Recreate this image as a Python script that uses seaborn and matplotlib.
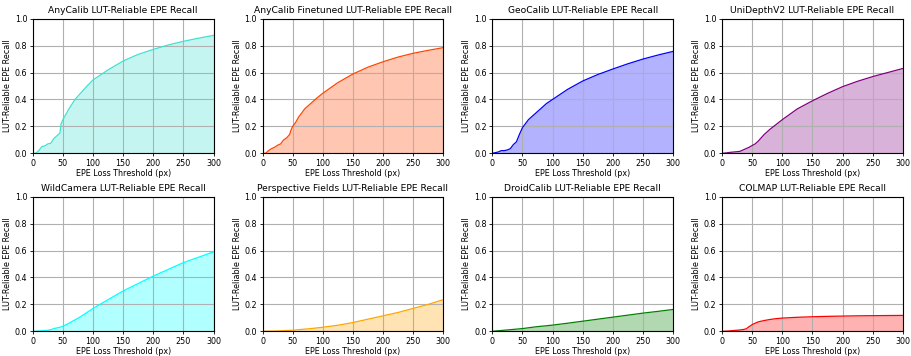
import matplotlib
matplotlib.use("Agg")
import matplotlib.pyplot as plt
import seaborn as sns
import pandas as pd

thresholds = [0, 5, 10, 15, 20, 25, 30, 35, 40, 45, 47, 50, 55, 60, 70, 80, 90,
              100, 125, 150, 175, 200, 225, 250, 275, 300]

anycalib = [0, 0.0, 0.02, 0.05, 0.055, 0.07, 0.075, 0.11, 0.13, 0.15, 0.22, 0.25, 0.29,
            0.33, 0.40, 0.45, 0.50, 0.545, 0.62, 0.686, 0.735, 0.772, 0.805, 0.832,
            0.855, 0.876]
anycalib_ft = [0, 0.0, 0.02, 0.035, 0.045, 0.06, 0.07, 0.10, 0.115, 0.14, 0.17, 0.20, 0.23,
               0.27, 0.33, 0.37, 0.41, 0.446, 0.525, 0.589, 0.64, 0.68, 0.715, 0.743,
               0.765, 0.785]
geocalib = [0, 0.005, 0.01, 0.02, 0.02, 0.025, 0.035, 0.065, 0.085, 0.14, 0.16, 0.19, 0.22,
            0.25, 0.29, 0.33, 0.37, 0.40, 0.475, 0.537, 0.585, 0.626, 0.665, 0.70,
            0.73, 0.757]
unidepth = [0, 0.002, 0.005, 0.008, 0.01, 0.012, 0.015, 0.025, 0.035, 0.045, 0.05, 0.058,
            0.07, 0.09, 0.14, 0.18, 0.215, 0.25, 0.33, 0.39, 0.445, 0.495, 0.535, 0.57,
            0.60, 0.63]
wildcamera = [0, 0.001, 0.002, 0.004, 0.006, 0.008, 0.012, 0.02, 0.025, 0.03, 0.033, 0.038,
              0.048, 0.06, 0.085, 0.11, 0.14, 0.17, 0.235, 0.30, 0.355, 0.41, 0.46, 0.51,
              0.55, 0.59]
persp_fields = [0, 0.001, 0.001, 0.002, 0.002, 0.003, 0.004, 0.005, 0.006, 0.007, 0.007,
                0.008, 0.01, 0.012, 0.016, 0.02, 0.025, 0.03, 0.045, 0.065, 0.09, 0.115,
                0.14, 0.17, 0.20, 0.235]
droidcalib = [0, 0.002, 0.004, 0.006, 0.008, 0.01, 0.012, 0.014, 0.016, 0.018, 0.019, 0.02,
              0.023, 0.026, 0.032, 0.037, 0.041, 0.046, 0.06, 0.075, 0.09, 0.105, 0.12,
              0.135, 0.148, 0.162]
colmap = [0, 0.001, 0.002, 0.004, 0.006, 0.008, 0.01, 0.013, 0.018, 0.035, 0.04, 0.05,
          0.06, 0.07, 0.08, 0.088, 0.094, 0.098, 0.104, 0.108, 0.111, 0.113, 0.115, 0.116,
          0.117, 0.118]

methods = ["AnyCalib", "AnyCalib Finetuned", "GeoCalib", "UniDepthV2",
           "WildCamera", "Perspective Fields", "DroidCalib", "COLMAP"]
curves = [anycalib, anycalib_ft, geocalib, unidepth,
          wildcamera, persp_fields, droidcalib, colmap]
colors = ["turquoise", "orangered", "blue", "purple",
          "cyan", "orange", "green", "red"]

fig, axes = plt.subplots(2, 4, figsize=(9.11, 3.56), dpi=100)
fig.subplots_adjust(left=0.036, right=0.991, top=0.9475, bottom=0.0694,
                    wspace=0.271, hspace=0.322)

for ax, name, vals, col in zip(axes.flat, methods, curves, colors):
    df = pd.DataFrame({"threshold": thresholds, "recall": vals})
    sns.lineplot(data=df, x="threshold", y="recall", ax=ax, color=col, linewidth=0.9)
    ax.fill_between(df["threshold"], df["recall"], color=col, alpha=0.3, linewidth=0)
    ax.set_xlim(0, 300)
    ax.set_ylim(0, 1.0)
    ax.set_title(f"{name} LUT-Reliable EPE Recall", fontsize=6.6, pad=4)
    ax.set_xlabel("EPE Loss Threshold (px)", fontsize=5.8, labelpad=1)
    ax.set_ylabel("LUT-Reliable EPE Recall", fontsize=5.8, labelpad=2)
    ax.tick_params(labelsize=5.8, length=2.5, width=0.6, pad=1.5)
    for s in ax.spines.values():
        s.set_linewidth(0.8)
    ax.grid(True, linewidth=0.8)

fig.savefig("out.png", dpi=100)
